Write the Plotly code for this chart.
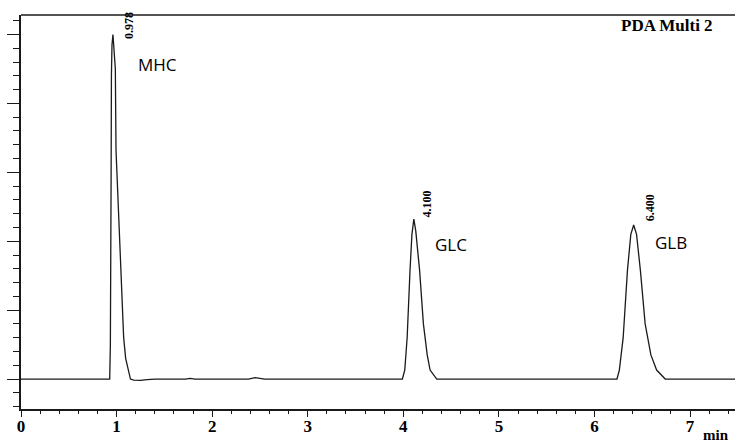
import plotly.graph_objects as go

# ---- data (time in min, response in major-tick units) ----
base_start_t = [0.0, 0.90]
base_start_h = [0.0, 0.0]

mhc_t = [0.928, 0.935, 0.940, 0.943, 0.946, 0.952, 0.962, 0.975, 0.987, 0.994,
         1.026, 1.057, 1.074, 1.095, 1.123, 1.145]
mhc_h = [0.0, 0.5, 1.3, 3.0, 4.4, 4.85, 5.0, 4.8, 4.5, 3.32,
         2.2, 1.15, 0.6, 0.3, 0.1, 0.0]

drift_t = [1.18, 1.25, 1.32, 1.40, 1.72, 1.77, 1.82, 2.38, 2.45, 2.55, 3.95]
drift_h = [-0.015, -0.02, -0.01, 0.0, 0.0, 0.01, 0.0, 0.0, 0.02, 0.0, 0.0]

glc_t = [3.99, 4.015, 4.04, 4.07, 4.09, 4.11, 4.13, 4.17, 4.21, 4.25, 4.28, 4.35]
glc_h = [0.0, 0.13, 0.6, 1.58, 2.1, 2.32, 2.15, 1.58, 0.8, 0.35, 0.13, 0.0]

glb_t = [6.235, 6.26, 6.30, 6.345, 6.38, 6.41, 6.44, 6.48, 6.53, 6.59, 6.65, 6.74]
glb_h = [0.0, 0.13, 0.6, 1.58, 2.1, 2.235, 2.1, 1.58, 0.8, 0.35, 0.13, 0.0]

base_end_t = [7.6]
base_end_h = [0.0]

peak_names = ["MHC", "GLC", "GLB"]
peak_rt_labels = ["0.978", "4.100", "6.400"]
peak_apex_t = [0.962, 4.11, 6.41]
peak_apex_h = [5.0, 2.32, 2.235]

x_tick_vals = [0, 1, 2, 3, 4, 5, 6, 7]
x_tick_text = ["0", "1", "2", "3", "4", "5", "6", "7"]

t_all = base_start_t + mhc_t + drift_t + glc_t + glb_t + base_end_t
h_all = base_start_h + mhc_h + drift_h + glc_h + glb_h + base_end_h

ink = "#1a1a1a"

fig = go.Figure()
fig.add_trace(go.Scatter(x=t_all, y=h_all, mode="lines",
                         line=dict(color=ink, width=1.3), hoverinfo="skip"))

X_MAX = 7.47
Y_MIN, Y_MAX = -0.435, 5.283

W, H = 735, 444
ML, MR, MT, MB = 21, 0, 15, 35
PW, PH = W - ML - MR, H - MT - MB

fig.update_layout(
    width=W, height=H,
    margin=dict(l=ML, r=MR, t=MT, b=MB, autoexpand=False),
    paper_bgcolor="white", plot_bgcolor="white",
    showlegend=False,
    xaxis=dict(range=[0, X_MAX], showgrid=False, zeroline=False,
               showline=True, linecolor=ink, linewidth=1.5,
               ticks="outside", ticklen=6, tickwidth=1.3, tickcolor=ink,
               tickvals=x_tick_vals, ticktext=x_tick_text,
               ticklabelstandoff=-5,
               tickfont=dict(family="Liberation Serif", size=17, color="black", weight="bold"),
               minor=dict(dtick=0.2, tick0=0, ticks="outside", ticklen=3,
                          tickwidth=1, tickcolor=ink, showgrid=False)),
    yaxis=dict(range=[Y_MIN, Y_MAX], showgrid=False, zeroline=False,
               showline=True, linecolor=ink, linewidth=1.5,
               ticks="outside", ticklen=12, tickwidth=1.3, tickcolor=ink,
               dtick=1, tick0=0, showticklabels=False,
               minor=dict(dtick=0.2, tick0=0, ticks="outside", ticklen=6,
                          tickwidth=1, tickcolor=ink, showgrid=False)),
)

# top border (right side is cut off in the original)
fig.add_shape(type="line", xref="paper", yref="paper", x0=0, x1=1, y0=1, y1=1,
              line=dict(color=ink, width=1.5))

# retention-time labels (rotated)
rt_shift = [(7, -6), (4, 0), (7, 2)]
for lab, tx, hy, (dx, dy) in zip(peak_rt_labels, peak_apex_t, peak_apex_h, rt_shift):
    fig.add_annotation(x=tx, y=hy, xref="x", yref="y", text=lab, showarrow=False,
                       textangle=-90, xanchor="left", yanchor="bottom",
                       xshift=dx, yshift=dy,
                       font=dict(family="Liberation Serif", size=12, color="black", weight="bold"))

# compound names
name_shift = [(23, -16), (19, -12), (19, -4)]
for name, tx, hy, (dx, dy) in zip(peak_names, peak_apex_t, peak_apex_h, name_shift):
    fig.add_annotation(x=tx, y=hy, xref="x", yref="y", text=name, showarrow=False,
                       xanchor="left", yanchor="top", xshift=dx, yshift=dy,
                       font=dict(family="Open Sans", size=17, color="black"))

fig.add_annotation(x=(619 - ML) / PW, y=1, xref="paper", yref="paper", text="PDA Multi 2",
                   showarrow=False, xanchor="left", yanchor="top", yshift=1,
                   font=dict(family="Liberation Serif", size=17, color="black", weight="bold"))
fig.add_annotation(x=(701 - ML) / PW, y=(H - MB - 425) / PH, xref="paper", yref="paper",
                   text="min", showarrow=False, xanchor="left", yanchor="top",
                   font=dict(family="Liberation Serif", size=15, color="black", weight="bold"))

fig.write_html("out.html", config={"displayModeBar": False},
               post_script="document.body.style.margin='0';document.body.style.padding='0';")
